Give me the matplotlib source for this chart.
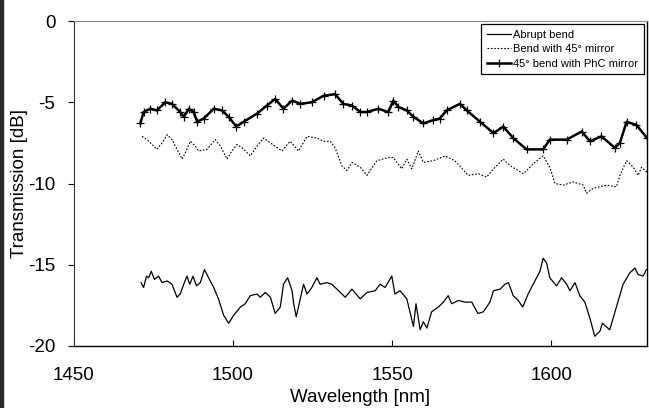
import numpy as np
import matplotlib
matplotlib.use('Agg')
import matplotlib.pyplot as plt
from matplotlib.patches import Rectangle

plt.rcParams['font.family'] = ['Liberation Sans', 'DejaVu Sans']

# 45 deg bend with PhC mirror
wl_phc = [1471.0, 1472.0, 1474.1, 1476.2, 1478.8, 1480.9, 1483.5, 1484.6, 1486.2, 1487.7,
          1488.8, 1490.9, 1494.0, 1496.6, 1498.7, 1501.1, 1503.4, 1507.6, 1510.7, 1513.3,
          1515.9, 1518.6, 1521.2, 1524.8, 1528.5, 1532.1, 1534.7, 1537.4, 1540.0, 1542.1,
          1545.7, 1548.8, 1550.4, 1552.0, 1554.6, 1556.7, 1559.8, 1562.9, 1565.0, 1567.1,
          1571.3, 1573.4, 1577.6, 1581.8, 1584.9, 1588.0, 1592.2, 1597.4, 1599.5, 1604.8,
          1609.5, 1612.1, 1615.7, 1619.9, 1621.5, 1623.6, 1626.7, 1630.0]
db_phc = [-6.3, -5.6, -5.4, -5.5, -5.0, -5.1, -5.6, -5.9, -5.4, -5.6,
          -6.2, -6.0, -5.4, -5.5, -5.9, -6.5, -6.2, -5.7, -5.2, -4.8,
          -5.4, -4.9, -5.1, -5.0, -4.6, -4.5, -5.1, -5.2, -5.6, -5.6,
          -5.4, -5.6, -4.9, -5.3, -5.5, -5.9, -6.3, -6.1, -6.0, -5.5,
          -5.1, -5.5, -6.2, -6.9, -6.5, -7.2, -7.9, -7.9, -7.3, -7.3,
          -6.8, -7.4, -7.1, -7.8, -7.5, -6.2, -6.4, -7.2]

# bend with 45 deg mirror
wl_mir = [1471.5, 1473.1, 1476.2, 1477.8, 1479.4, 1480.9, 1482.5, 1484.1, 1485.1, 1486.7,
          1488.2, 1489.3, 1491.9, 1494.5, 1496.1, 1498.2, 1499.7, 1501.3, 1502.9, 1505.5,
          1507.6, 1509.7, 1511.8, 1515.4, 1518.0, 1520.6, 1523.3, 1526.4, 1528.5, 1530.6,
          1532.1, 1534.2, 1535.8, 1537.4, 1540.0, 1542.1, 1545.2, 1548.8, 1550.4, 1553.0,
          1554.6, 1556.2, 1558.2, 1559.8, 1562.9, 1566.6, 1569.7, 1573.9, 1577.1, 1579.7,
          1582.3, 1584.9, 1587.0, 1591.2, 1594.8, 1597.4, 1599.5, 1601.1, 1603.7, 1606.8,
          1610.0, 1611.0, 1613.1, 1617.3, 1620.4, 1621.5, 1623.6, 1625.7, 1627.2, 1628.3,
          1630.0]
db_mir = [-7.1, -7.3, -7.9, -7.5, -7.0, -7.3, -7.9, -8.5, -8.1, -7.4,
          -7.7, -8.0, -7.9, -7.3, -7.7, -8.5, -8.0, -7.6, -7.8, -8.3,
          -7.7, -7.2, -7.5, -8.0, -7.4, -8.0, -7.1, -7.2, -7.4, -7.4,
          -7.8, -8.9, -9.2, -8.7, -9.0, -9.5, -8.6, -8.4, -8.4, -9.1,
          -8.5, -9.1, -8.0, -8.7, -8.6, -8.3, -8.6, -9.5, -9.4, -9.6,
          -9.0, -8.5, -8.9, -9.4, -8.7, -8.3, -9.0, -10.0, -10.1, -9.9,
          -10.1, -10.6, -10.3, -10.1, -10.2, -9.5, -8.6, -9.0, -9.5, -9.0,
          -9.3]

# abrupt bend
wl_abr = [1471.2, 1472.0, 1472.9, 1473.6, 1474.4, 1475.4, 1476.7, 1477.8, 1479.4, 1480.9,
          1482.5, 1483.5, 1484.6, 1485.6, 1486.5, 1487.5, 1488.6, 1489.8, 1491.1, 1492.4,
          1494.0, 1495.5, 1497.1, 1498.7, 1500.3, 1502.4, 1503.9, 1505.5, 1507.6, 1508.6,
          1510.2, 1511.8, 1513.3, 1514.9, 1515.9, 1517.2, 1518.6, 1519.1, 1519.9, 1520.6,
          1522.2, 1523.3, 1524.8, 1526.4, 1527.4, 1529.5, 1531.1, 1533.2, 1535.3, 1537.4,
          1540.0, 1542.1, 1544.7, 1546.2, 1547.8, 1549.9, 1550.9, 1552.5, 1554.6, 1555.6,
          1556.7, 1557.5, 1558.8, 1559.8, 1560.9, 1562.4, 1564.5, 1566.1, 1567.6, 1568.7,
          1570.8, 1572.9, 1575.0, 1576.9, 1578.6, 1580.7, 1581.8, 1583.9, 1585.4, 1586.5,
          1588.0, 1589.6, 1591.0, 1592.7, 1594.8, 1596.4, 1597.4, 1598.5, 1599.5, 1601.6,
          1603.2, 1604.8, 1605.8, 1607.4, 1608.9, 1610.5, 1612.1, 1613.6, 1615.2, 1616.0,
          1618.3, 1620.4, 1622.5, 1624.6, 1626.2, 1627.2, 1628.8, 1629.8]
db_abr = [-16.1, -16.4, -15.7, -15.8, -15.4, -15.9, -15.7, -16.1, -16.0, -16.2,
          -17.0, -16.8, -16.2, -15.7, -16.2, -15.7, -16.3, -16.1, -15.3, -15.8,
          -16.4, -17.1, -18.1, -18.6, -18.1, -17.6, -17.4, -16.9, -16.8, -17.0,
          -16.7, -17.0, -18.0, -17.6, -16.2, -15.8, -16.6, -17.4, -18.2, -17.6,
          -16.2, -16.8, -16.4, -15.8, -16.2, -16.1, -16.2, -16.6, -17.0, -16.5,
          -17.1, -16.7, -16.6, -16.2, -16.4, -15.7, -16.8, -16.6, -17.1, -17.9,
          -18.8, -17.4, -19.0, -18.5, -18.9, -17.9, -17.6, -17.3, -16.9, -17.4,
          -17.2, -17.3, -17.3, -18.0, -17.9, -17.3, -16.6, -16.5, -16.2, -16.1,
          -16.9, -17.2, -17.6, -16.8, -16.0, -15.4, -14.6, -14.9, -15.8, -16.3,
          -15.8, -16.2, -16.6, -16.1, -16.9, -17.3, -18.3, -19.4, -19.1, -18.6,
          -19.0, -17.6, -16.2, -15.5, -15.2, -15.6, -15.7, -15.3]

x_ticks = [1450, 1500, 1550, 1600]
y_ticks = [0, -5, -10, -15, -20]

fig = plt.figure(figsize=(6.49, 4.08), dpi=100)
ax = fig.add_axes([73.5 / 649, 62 / 408, 573.5 / 649, 325 / 408])

# dark strip on the left edge of the picture
fig.patches.append(Rectangle((0, 0), 3 / 649, 1, transform=fig.transFigure,
                             color='#2b2b2b', zorder=0))

ax.plot(wl_abr, db_abr, color='black', lw=0.9, label='Abrupt bend')
ax.plot(wl_mir, db_mir, color='black', lw=0.8, ls=(0, (1.5, 1.5)),
        label='Bend with 45° mirror')
ax.plot(wl_phc, db_phc, color='black', lw=1.8, marker='+', ms=6, mew=0.9,
        label='45° bend with PhC mirror')

ax.set_xlim(1450, 1630)
ax.set_ylim(-20, 0)
ax.set_xticks(x_ticks)
ax.set_yticks(y_ticks)
ax.set_yticklabels([str(v) for v in y_ticks])
ax.tick_params(axis='x', direction='in', length=4, width=0.8, labelsize=13.5, pad=15)
ax.tick_params(axis='y', direction='out', length=4, width=0.8, labelsize=13.5, pad=9)
ax.set_xlabel('Wavelength [nm]', fontsize=13.5, labelpad=4)
ax.set_ylabel('Transmission [dB]', fontsize=13.5, labelpad=0)

ax.spines['top'].set_color('#888888')
ax.spines['top'].set_linewidth(0.8)
ax.spines['left'].set_color('#333333')
for s in ['bottom', 'right']:
    ax.spines[s].set_color('black')
    ax.spines[s].set_linewidth(1.0)

leg = ax.legend(loc='upper right', fontsize=8, frameon=True, fancybox=False,
                edgecolor='black', framealpha=1, numpoints=1, handlelength=2.2,
                handletextpad=0.15, borderpad=0.5, labelspacing=0.4,
                borderaxespad=0.3)
leg.get_frame().set_linewidth(0.9)

plt.savefig('out.png', dpi=100)
plt.close()
